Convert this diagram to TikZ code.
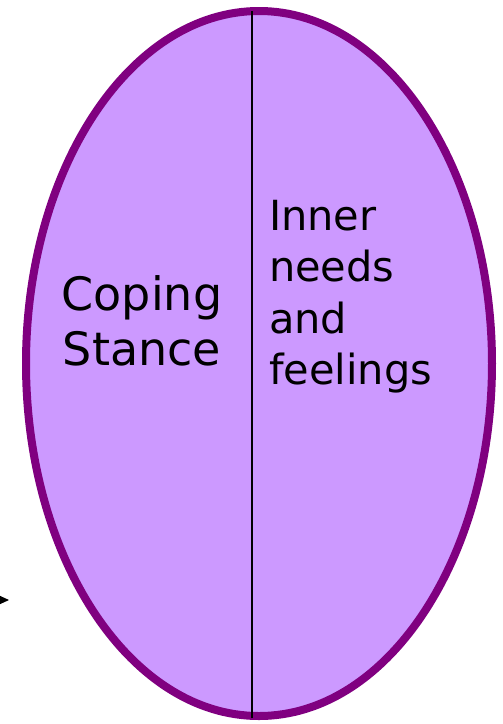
\documentclass[tikz,border=0pt]{standalone}
\usepackage{fontspec}
\setmainfont{DejaVu Sans}
\usetikzlibrary{shapes.geometric}
\usetikzlibrary{arrows.meta}

\definecolor{ovalfill}{HTML}{CC99FF}
\definecolor{ovalline}{HTML}{800080}

\begin{document}
\begin{tikzpicture}[
    x=1pt,
    y=-1pt,
    >={Triangle[length=9pt,width=8pt]},
    every node/.style={inner sep=0pt, outer sep=0pt}
]

\useasboundingbox (0,0) rectangle (503,724);

%------------------------------------------------------------
% Oval
%------------------------------------------------------------

\node[
    ellipse,
    draw=ovalline,
    fill=ovalfill,
    line width=8pt,
    minimum width=466pt,
    minimum height=705pt
]
(oval) at (259,363.5) {};

%------------------------------------------------------------
% Dividing line
%------------------------------------------------------------

\coordinate (divtop) at (252,11);   % top of oval
\coordinate (divbot) at (252,718);  % bottom of oval

\draw[line width=1.2pt]
(divtop)--(divbot);

%------------------------------------------------------------
% Texts
%------------------------------------------------------------

% left half
\node[
    align=center,
    font=\fontsize{46}{55}\selectfont
]
(coping) at (142,321)
{Coping\\Stance};

% right half
\node[
    align=left,
    anchor=west,
    font=\fontsize{41.5}{51.5}\selectfont
]
(inner) at (269,296.5)
{Inner\\needs\\and\\feelings};

%------------------------------------------------------------
% Arrow coming in from the left
%------------------------------------------------------------

\coordinate (arrowtail) at (-40,600);
\coordinate (arrowhead) at (9,600);

\draw[->,line width=1pt]
(arrowtail)--(arrowhead);

\end{tikzpicture}
\end{document}
